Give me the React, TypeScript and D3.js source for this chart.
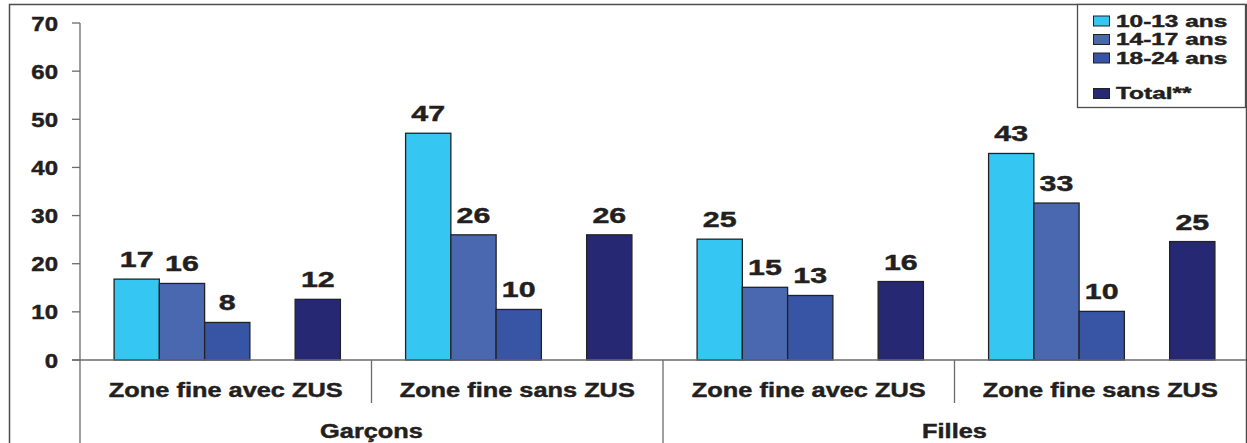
import React from "react";
import * as d3 from "d3";

const groups = ["Garçons", "Filles"];
const categories = ["Zone fine avec ZUS", "Zone fine sans ZUS", "Zone fine avec ZUS", "Zone fine sans ZUS"];
const series = ["10-13 ans", "14-17 ans", "18-24 ans", "Total**"];
const slots = ["10-13 ans", "14-17 ans", "18-24 ans", "gap", "Total**"];
const colors = ["#36c6f2", "#4a68b0", "#3854a5", "#262874"];
// values per category, order of series
const values = [
  [16.8, 15.9, 7.8, 12.6],
  [47.1, 26.0, 10.5, 26.0],
  [25.1, 15.1, 13.4, 16.3],
  [42.9, 32.6, 10.1, 24.6],
];
const labels = [
  ["17", "16", "8", "12"],
  ["47", "26", "10", "26"],
  ["25", "15", "13", "16"],
  ["43", "33", "10", "25"],
];
const yTicks = [0, 10, 20, 30, 40, 50, 60, 70];

const W = 1247;
const H = 443;
const FONT = "'Liberation Sans', Arial, sans-serif";
const INK = "#231f20";
const AXIS = "#6b6b6b";

function T(props: { x: number; y: number; size: number; sx: number; anchor?: string; children: React.ReactNode }) {
  const { x, y, size, sx, anchor = "middle", children } = props;
  return (
    <text
      transform={`translate(${x},${y}) scale(${sx},1)`}
      textAnchor={anchor as any}
      fontFamily={FONT}
      fontWeight="bold"
      fontSize={size}
      fill={INK}
      stroke={INK}
      strokeWidth={0.45}
    >
      {children}
    </text>
  );
}

export default function App() {
  const x0 = 80;
  const x1 = 1246;
  const y = d3.scaleLinear().domain([0, 70]).range([360, 23]);
  const xCat = d3.scaleBand<number>().domain(d3.range(categories.length)).range([x0, x1]).padding(0);
  const xSlot = d3
    .scaleBand<string>()
    .domain(slots)
    .range([0, xCat.bandwidth()])
    .paddingInner(0)
    .paddingOuter(0.72);
  const bw = xSlot.bandwidth();
  const base = y(0);

  const groupEdges = [x0, xCat(2)!, x1];

  return (
    <svg width={W} height={H} style={{ position: "absolute", left: 0, top: 0 }}>
      <rect x={0} y={0} width={W} height={H} fill="#fff" />
      {/* outer frame */}
      <path d={`M9.5,${H} V4.5 H1246.5 V${H}`} fill="none" stroke="#4d4d4d" strokeWidth={1.5} />

      {/* bars */}
      {values.map((row, ci) =>
        row.map((v, si) => {
          const bx = xCat(ci)! + xSlot(slots[si === 3 ? 4 : si])! + 1.5;
          const by = y(v);
          return (
            <g key={`${ci}-${si}`}>
              <rect x={bx} y={by} width={bw} height={base - by} fill={colors[si]} stroke="#222" strokeWidth={1.3} />
              <T x={bx + bw / 2} y={by - 12} size={22.5} sx={1.35}>
                {labels[ci][si]}
              </T>
            </g>
          );
        })
      )}

      {/* y axis */}
      <line x1={x0} x2={x0} y1={y(70)} y2={H} stroke={AXIS} strokeWidth={1.3} />
      {yTicks.map((t) => (
        <g key={t}>
          <line x1={72} x2={x0} y1={y(t)} y2={y(t)} stroke={AXIS} strokeWidth={1.3} />
          <T x={58} y={y(t) + 7.5} size={20} sx={1.2} anchor="end">
            {t}
          </T>
        </g>
      ))}

      {/* x axis */}
      <line x1={72} x2={x1} y1={base} y2={base} stroke={AXIS} strokeWidth={1.3} />
      {[1, 3].map((i) => (
        <line key={i} x1={xCat(i)!} x2={xCat(i)!} y1={base} y2={403} stroke={AXIS} strokeWidth={1.3} />
      ))}
      <line x1={xCat(2)!} x2={xCat(2)!} y1={base} y2={H} stroke={AXIS} strokeWidth={1.3} />

      {categories.map((c, i) => (
        <T key={i} x={xCat(i)! + xCat.bandwidth() / 2} y={397} size={19.5} sx={1.3}>
          {c}
        </T>
      ))}
      {groups.map((g, i) => (
        <T key={g} x={(groupEdges[i] + groupEdges[i + 1]) / 2} y={437.5} size={19.5} sx={1.3}>
          {g}
        </T>
      ))}

      {/* legend */}
      <rect x={1077.5} y={4.5} width={168} height={103} fill="#fff" stroke="#4d4d4d" strokeWidth={1.3} />
      {series.map((s, i) => {
        const ly = [26.5, 45, 63.5, 99][i];
        return (
          <g key={s}>
            <rect x={1093.5} y={ly - 10.5} width={16} height={10} fill={colors[i]} stroke="#222" strokeWidth={1} />
            <T x={1116} y={ly} size={16.5} sx={1.48} anchor="start">
              {s}
            </T>
          </g>
        );
      })}
    </svg>
  );
}
